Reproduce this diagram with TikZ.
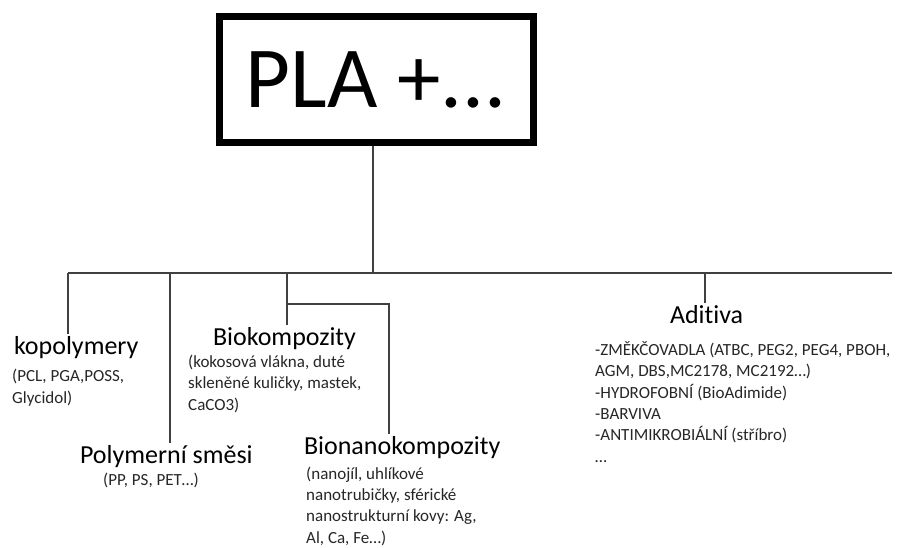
\documentclass[tikz,border=0pt]{standalone}
\usepackage{fontspec}
\setmainfont[Ligatures=NoCommon]{Carlito}
\begin{document}
\begin{tikzpicture}[x=1pt,y=-1pt,
    plabox/.style={draw,line width=7pt,minimum width=314pt,minimum height=126pt,inner sep=0pt,font=\fontsize{87}{94}\selectfont},
    head/.style={inner sep=0pt,outer sep=2pt,anchor=base west,font=\fontsize{26}{30}\selectfont},
    note/.style={inner sep=0pt,anchor=base west,align=left,text=black!85,font=\fontsize{17}{21.3}\selectfont},
    link/.style={draw=black!75,line width=1.5pt}]
  \useasboundingbox (0,0) rectangle (907,548);

  \node[plabox] (pla) at (376,80) {PLA +...};

  % headings, and their notes placed by the last line
  \node[head] (kop) at (12,354) {kopolymery};
  \node[note] (kopn) at (12,403) {(PCL, PGA,POSS,\\Glycidol)};
  \node[head] (smes) at (78,463) {Polymerní směsi};
  \node[note] (smesn) at (103,485) {(PP, PS, PET…)};
  \node[head] (bio) at (211,345) {Biokompozity};
  \node[note] (bion) at (188,410) {(kokosová vlákna, duté\\skleněné kuličky, mastek,\\CaCO3)};
  \node[head] (nano) at (302,454) {Bionanokompozity};
  \node[note] (nanon) at (306,543) {(nanojíl, uhlíkové\\nanotrubičky, sférické\\nanostrukturní kovy: Ag,\\Al, Ca, Fe…)};
  \node[head] (adit) at (668,323) {Aditiva};
  \node[note] (aditn) at (595,462) {-ZMĚKČOVADLA (ATBC, PEG2, PEG4, PBOH,\\AGM, DBS,MC2178, MC2192…)\\-HYDROFOBNÍ (BioAdimide)\\-BARVIVA\\-ANTIMIKROBIÁLNÍ (stříbro)\\…};

  \coordinate (hub) at (373,273);
  \coordinate (bl) at (68,273);
  \coordinate (br) at (892,273);
  \coordinate (d2) at (170,273);
  \coordinate (d3) at (287,273);
  \coordinate (d4) at (705,273);
  \coordinate (j) at (287,304);
  \coordinate (d5) at (389,304);

  \draw[link] (pla.south -| hub) -- (hub);
  \draw[link] (bl) -- (br);
  \draw[link] (bl) -- (bl |- kop.north);
  \draw[link] (d2) -- (d2 |- smes.north);
  \draw[link] (d3) -- (d3 |- bio.north);
  \draw[link] (j) -- (d5) -- (d5 |- nano.north);
  \draw[link] (d4) -- (d4 |- adit.north);
\end{tikzpicture}
\end{document}
